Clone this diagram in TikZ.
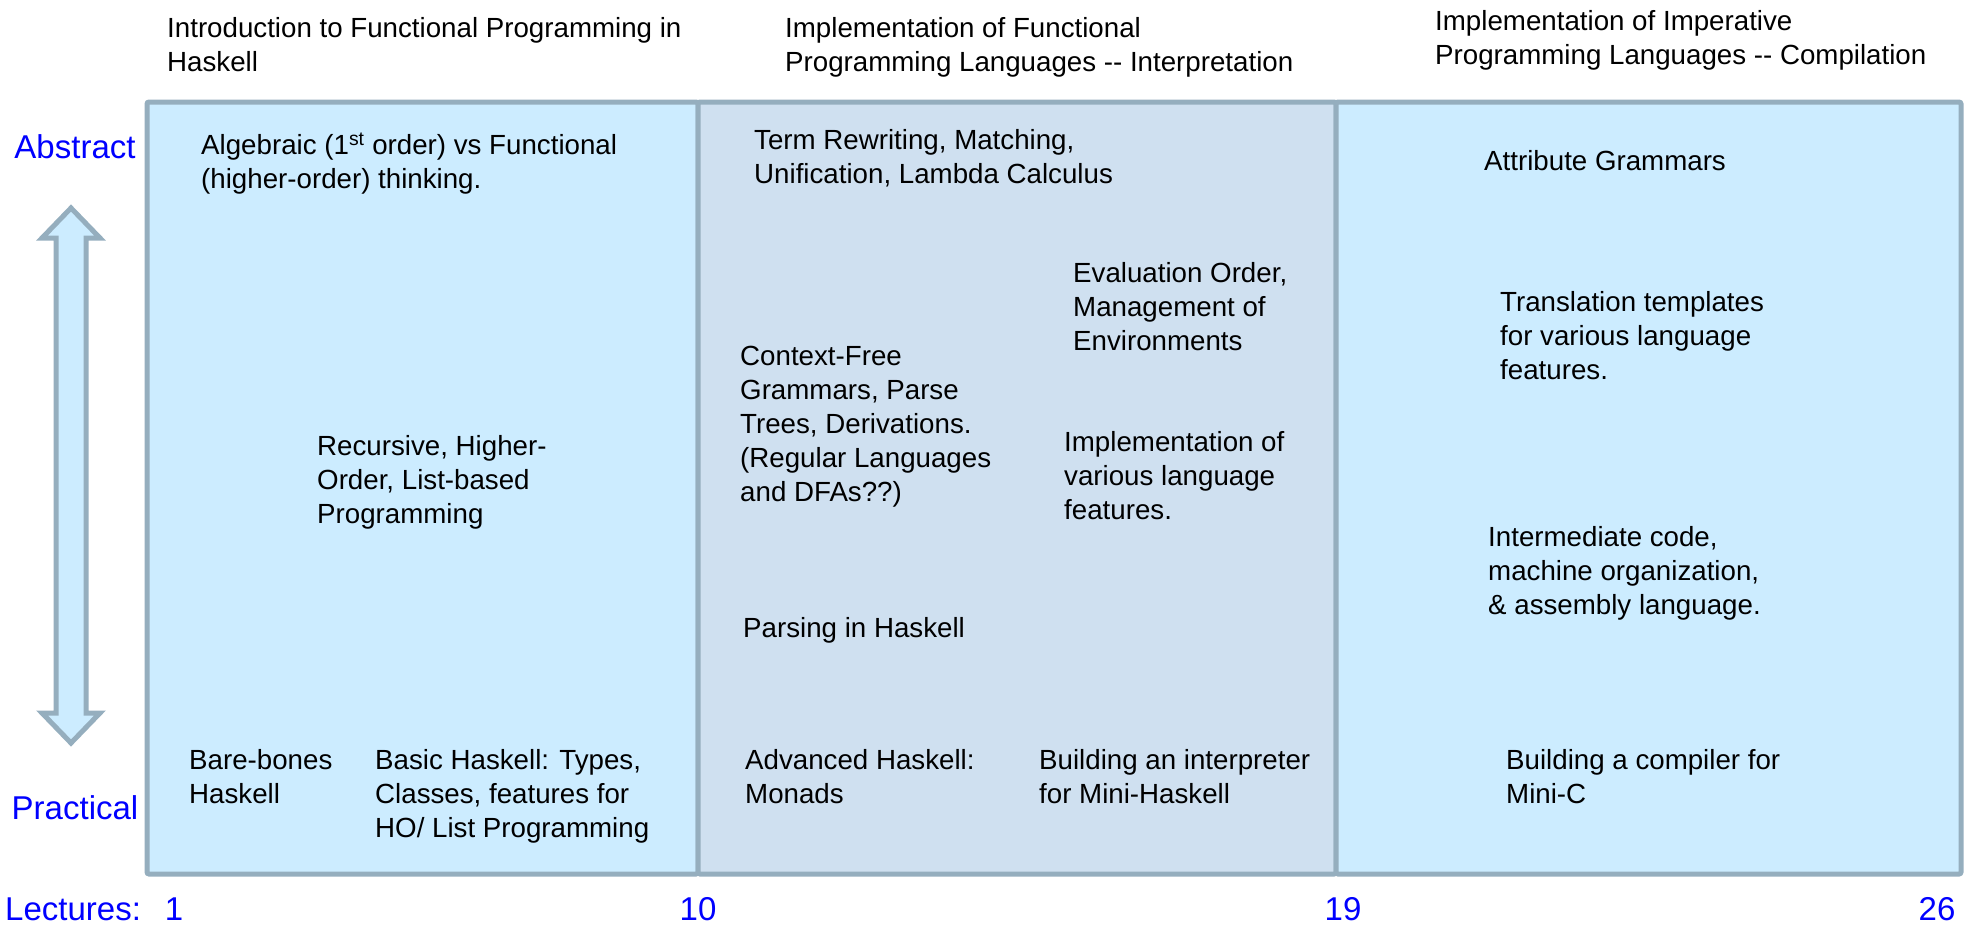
\documentclass[tikz,border=0pt]{standalone}
\usepackage{fontspec}
\setmainfont{Liberation Sans}
\definecolor{framegray}{RGB}{149,174,190}
\definecolor{lightpanel}{RGB}{204,236,255}
\definecolor{midpanel}{RGB}{207,224,240}
\definecolor{labelblue}{RGB}{0,0,255}
\begin{document}
\begin{tikzpicture}[x=1pt,y=-1pt,
  body/.style={anchor=north west, inner sep=0pt, align=left, font=\fontsize{27.7}{34}\selectfont},
  side/.style={inner sep=0pt, text=labelblue, font=\fontsize{33}{38}\selectfont},
  panel/.style={draw=framegray, line width=5pt, rounded corners=2pt},
  scalearrow/.style={draw=framegray, fill=lightpanel, line width=5pt, line join=miter}
]
\useasboundingbox (0,0) rectangle (1973,924);

% three topic panels
\path[panel, fill=lightpanel] (147,102) rectangle (698,874);
\path[panel, fill=midpanel]   (698,102) rectangle (1336,874);
\path[panel, fill=lightpanel] (1336,102) rectangle (1961,874);

% abstract <-> practical scale
\path[scalearrow] (71,208) -- (100,238) -- (86,238) -- (86,713) -- (100,713)
  -- (71,743) -- (42,713) -- (56,713) -- (56,238) -- (42,238) -- cycle;

% column headings
\node[body] (h1) at (167,17) {Introduction to Functional Programming in\\Haskell};
\node[body] (h2) at (785,17) {Implementation of Functional\\Programming Languages -{}- Interpretation};
\node[body] (h3) at (1435,10) {Implementation of Imperative\\Programming Languages -{}- Compilation};

% side labels
\node[side] (abs) at (75,147) {Abstract};
\node[side] (prac) at (75,808) {Practical};
\node[side, anchor=west] (lect) at (5,909) {Lectures:};
\node[side] (l1) at (174,909) {1};
\node[side] (l10) at (698,909) {10};
\node[side] (l19) at (1343,909) {19};
\node[side] (l26) at (1937,909) {26};

% functional programming in Haskell
\node[body] (alg) at (201,133) {Algebraic (1\textsuperscript{st} order) vs Functional\\(higher-order) thinking.};
\node[body] (rec) at (317,435) {Recursive, Higher-\\Order, List-based\\Programming};
\node[body] (bare) at (189,749) {Bare-bones\\Haskell};
\node[body] (basic) at (375,749) {Basic Haskell: Types,\\Classes, features for\\HO/ List Programming};

% interpretation
\node[body] (term) at (754,129) {Term Rewriting, Matching,\\Unification, Lambda Calculus};
\node[body] (eval) at (1073,262) {Evaluation Order,\\Management of\\Environments};
\node[body] (cfg) at (740,346) {Context-Free\\Grammars, Parse\\Trees, Derivations.\\(Regular Languages\\and DFAs??)};
\node[body] (impl) at (1064,431) {Implementation of\\various language\\features.};
\node[body] (pars) at (743,617) {Parsing in Haskell};
\node[body] (adv) at (745,749) {Advanced Haskell:\\Monads};
\node[body] (interp) at (1039,749) {Building an interpreter\\for Mini-Haskell};

% compilation
\node[body] (attr) at (1484,150) {Attribute Grammars};
\node[body] (trans) at (1500,291) {Translation templates\\for various language\\features.};
\node[body] (inter) at (1488,526) {Intermediate code,\\machine organization,\\\& assembly language.};
\node[body] (comp) at (1506,749) {Building a compiler for\\Mini-C};
\end{tikzpicture}
\end{document}
